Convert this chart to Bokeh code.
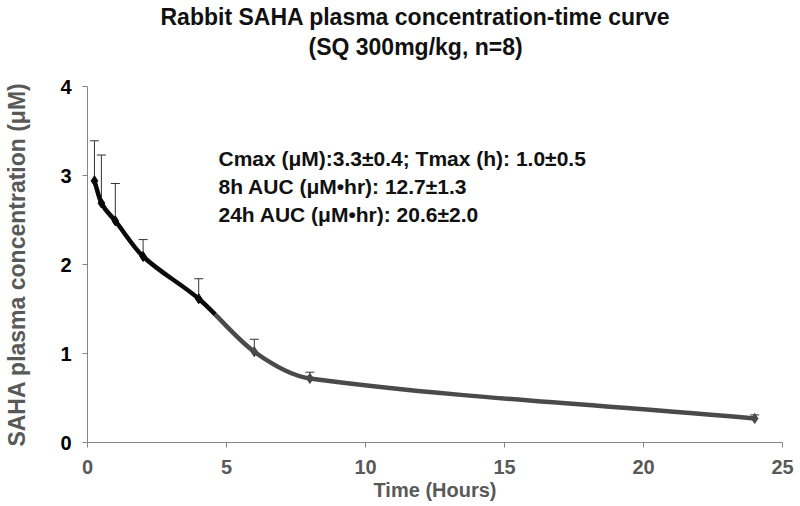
from bokeh.plotting import figure
from bokeh.models import Range1d, FixedTicker, Label, Whisker, TeeHead, ColumnDataSource, Title
from bokeh.embed import file_html
from bokeh.resources import INLINE

# ---- data ----
time_h = [0.25, 0.5, 1, 2, 4, 6, 8, 24]
conc_um = [2.94, 2.69, 2.49, 2.09, 1.615, 1.02, 0.72, 0.27]
sd_um = [0.45, 0.54, 0.42, 0.19, 0.225, 0.14, 0.07, 0.04]
x_ticks = [0, 5, 10, 15, 20, 25]
y_ticks = [0, 1, 2, 3, 4]
title_lines = ["Rabbit SAHA plasma concentration-time curve", "(SQ 300mg/kg, n=8)"]
notes = ["Cmax (\u03bcM):3.3\u00b10.4; Tmax (h): 1.0\u00b10.5",
         "8h AUC (\u03bcM\u2022hr): 12.7\u00b11.3",
         "24h AUC (\u03bcM\u2022hr): 20.6\u00b12.0"]

DARK = "#0a0a0a"
GREY = "#4a4a4a"
FONT = "Liberation Sans"

p = figure(width=800, height=506, output_backend="svg", toolbar_location=None,
           x_range=Range1d(0, 25), y_range=Range1d(0, 4),
           min_border_left=87, min_border_right=18, min_border_top=86, min_border_bottom=64)
p.outline_line_color = None
p.xgrid.visible = False
p.ygrid.visible = False
p.background_fill_color = "white"
p.border_fill_color = "white"

# smooth curve: cubic Hermite segments (Excel-like smoothing) via bezier glyphs
n = len(time_h)
m = []
for i in range(n):
    if i == 0:
        m.append((conc_um[1] - conc_um[0]) / (time_h[1] - time_h[0]))
    elif i == n - 1:
        m.append((conc_um[-1] - conc_um[-2]) / (time_h[-1] - time_h[-2]))
    else:
        m.append((conc_um[i + 1] - conc_um[i - 1]) / (time_h[i + 1] - time_h[i - 1]))

segs = dict(x0=[], y0=[], x1=[], y1=[], cx0=[], cy0=[], cx1=[], cy1=[], color=[])

def lerp(a, b, t):
    return (a[0] + (b[0] - a[0]) * t, a[1] + (b[1] - a[1]) * t)

def add(P0, C0, C1, P1, col):
    segs["x0"].append(P0[0]); segs["y0"].append(P0[1])
    segs["cx0"].append(C0[0]); segs["cy0"].append(C0[1])
    segs["cx1"].append(C1[0]); segs["cy1"].append(C1[1])
    segs["x1"].append(P1[0]); segs["y1"].append(P1[1])
    segs["color"].append(col)

for i in range(n - 1):
    h = time_h[i + 1] - time_h[i]
    P0 = (time_h[i], conc_um[i])
    P1 = (time_h[i + 1], conc_um[i + 1])
    C0 = (time_h[i] + h / 3, conc_um[i] + m[i] * h / 3)
    C1 = (time_h[i + 1] - h / 3, conc_um[i + 1] - m[i + 1] * h / 3)
    if i < 4:
        add(P0, C0, C1, P1, DARK)
    elif i == 4:
        t = 0.3
        A = lerp(P0, C0, t); B = lerp(C0, C1, t); C = lerp(C1, P1, t)
        D = lerp(A, B, t); E = lerp(B, C, t); F = lerp(D, E, t)
        add(P0, A, D, F, DARK)
        add(F, E, C, P1, GREY)
    else:
        add(P0, C0, C1, P1, GREY)

p.bezier(x0="x0", y0="y0", x1="x1", y1="y1", cx0="cx0", cy0="cy0", cx1="cx1", cy1="cy1",
         source=ColumnDataSource(segs), line_color="color", line_width=4.5)

pt_colors = [DARK if t <= 4 else GREY for t in time_h]
upper = [c + s for c, s in zip(conc_um, sd_um)]
src = ColumnDataSource(dict(t=time_h, c=conc_um, up=upper, col=pt_colors))
p.add_layout(Whisker(source=src, base="t", lower="c", upper="up", dimension="height",
                     line_color="#333333", line_width=1,
                     upper_head=TeeHead(size=9, line_color="#333333", line_width=1),
                     lower_head=None))
p.scatter("t", "c", source=src, marker="diamond", size=10, fill_color="col", line_color="col")

# axes
p.xaxis.ticker = FixedTicker(ticks=x_ticks)
p.yaxis.ticker = FixedTicker(ticks=y_ticks)
for ax in (p.xaxis[0], p.yaxis[0]):
    ax.axis_line_color = "#868686"
    ax.major_tick_line_color = "#868686"
    ax.major_tick_out = 5
    ax.major_tick_in = 0
    ax.minor_tick_line_color = None
    ax.major_label_text_font = FONT
    ax.major_label_text_font_style = "bold"
    ax.major_label_text_font_size = "20px"
    ax.axis_label_text_font = FONT
    ax.axis_label_text_font_style = "bold"
    ax.axis_label_text_color = "#595959"

p.xaxis.major_label_text_color = "#595959"
p.xaxis.major_label_standoff = 12
p.yaxis.major_label_text_color = "#000000"
p.yaxis.major_label_standoff = 11
p.xaxis.axis_label = "Time (Hours)"
p.xaxis.axis_label_text_font_size = "20px"
p.xaxis.axis_label_standoff = 2
p.yaxis.axis_label = "SAHA plasma concentration (\u03bcM)"
p.yaxis.axis_label_text_font_size = "23px"
p.yaxis.axis_label_standoff = 27

# title: two lines, with an empty spacer panel between them and the frame
spacer = Title(text=" ", standoff=0, text_font=FONT, text_font_size="22px")
t2 = Title(text=title_lines[1], align="left", offset=221, standoff=0,
           text_font=FONT, text_font_style="bold", text_font_size="23px", text_color="#111111")
t1 = Title(text=title_lines[0], align="left", offset=73, standoff=3,
           text_font=FONT, text_font_style="bold", text_font_size="23px", text_color="#111111")
p.add_layout(spacer, "above")
p.add_layout(t2, "above")
p.add_layout(t1, "above")

# annotation block
for txt, yy in zip(notes, [284, 256, 228]):
    p.add_layout(Label(x=131, y=yy, x_units="screen", y_units="screen", text=txt,
                       text_align="left", text_baseline="middle",
                       text_font=FONT, text_font_style="bold", text_font_size="21px",
                       text_color="#111111"))

open("out.html", "w").write(file_html(p, INLINE))
